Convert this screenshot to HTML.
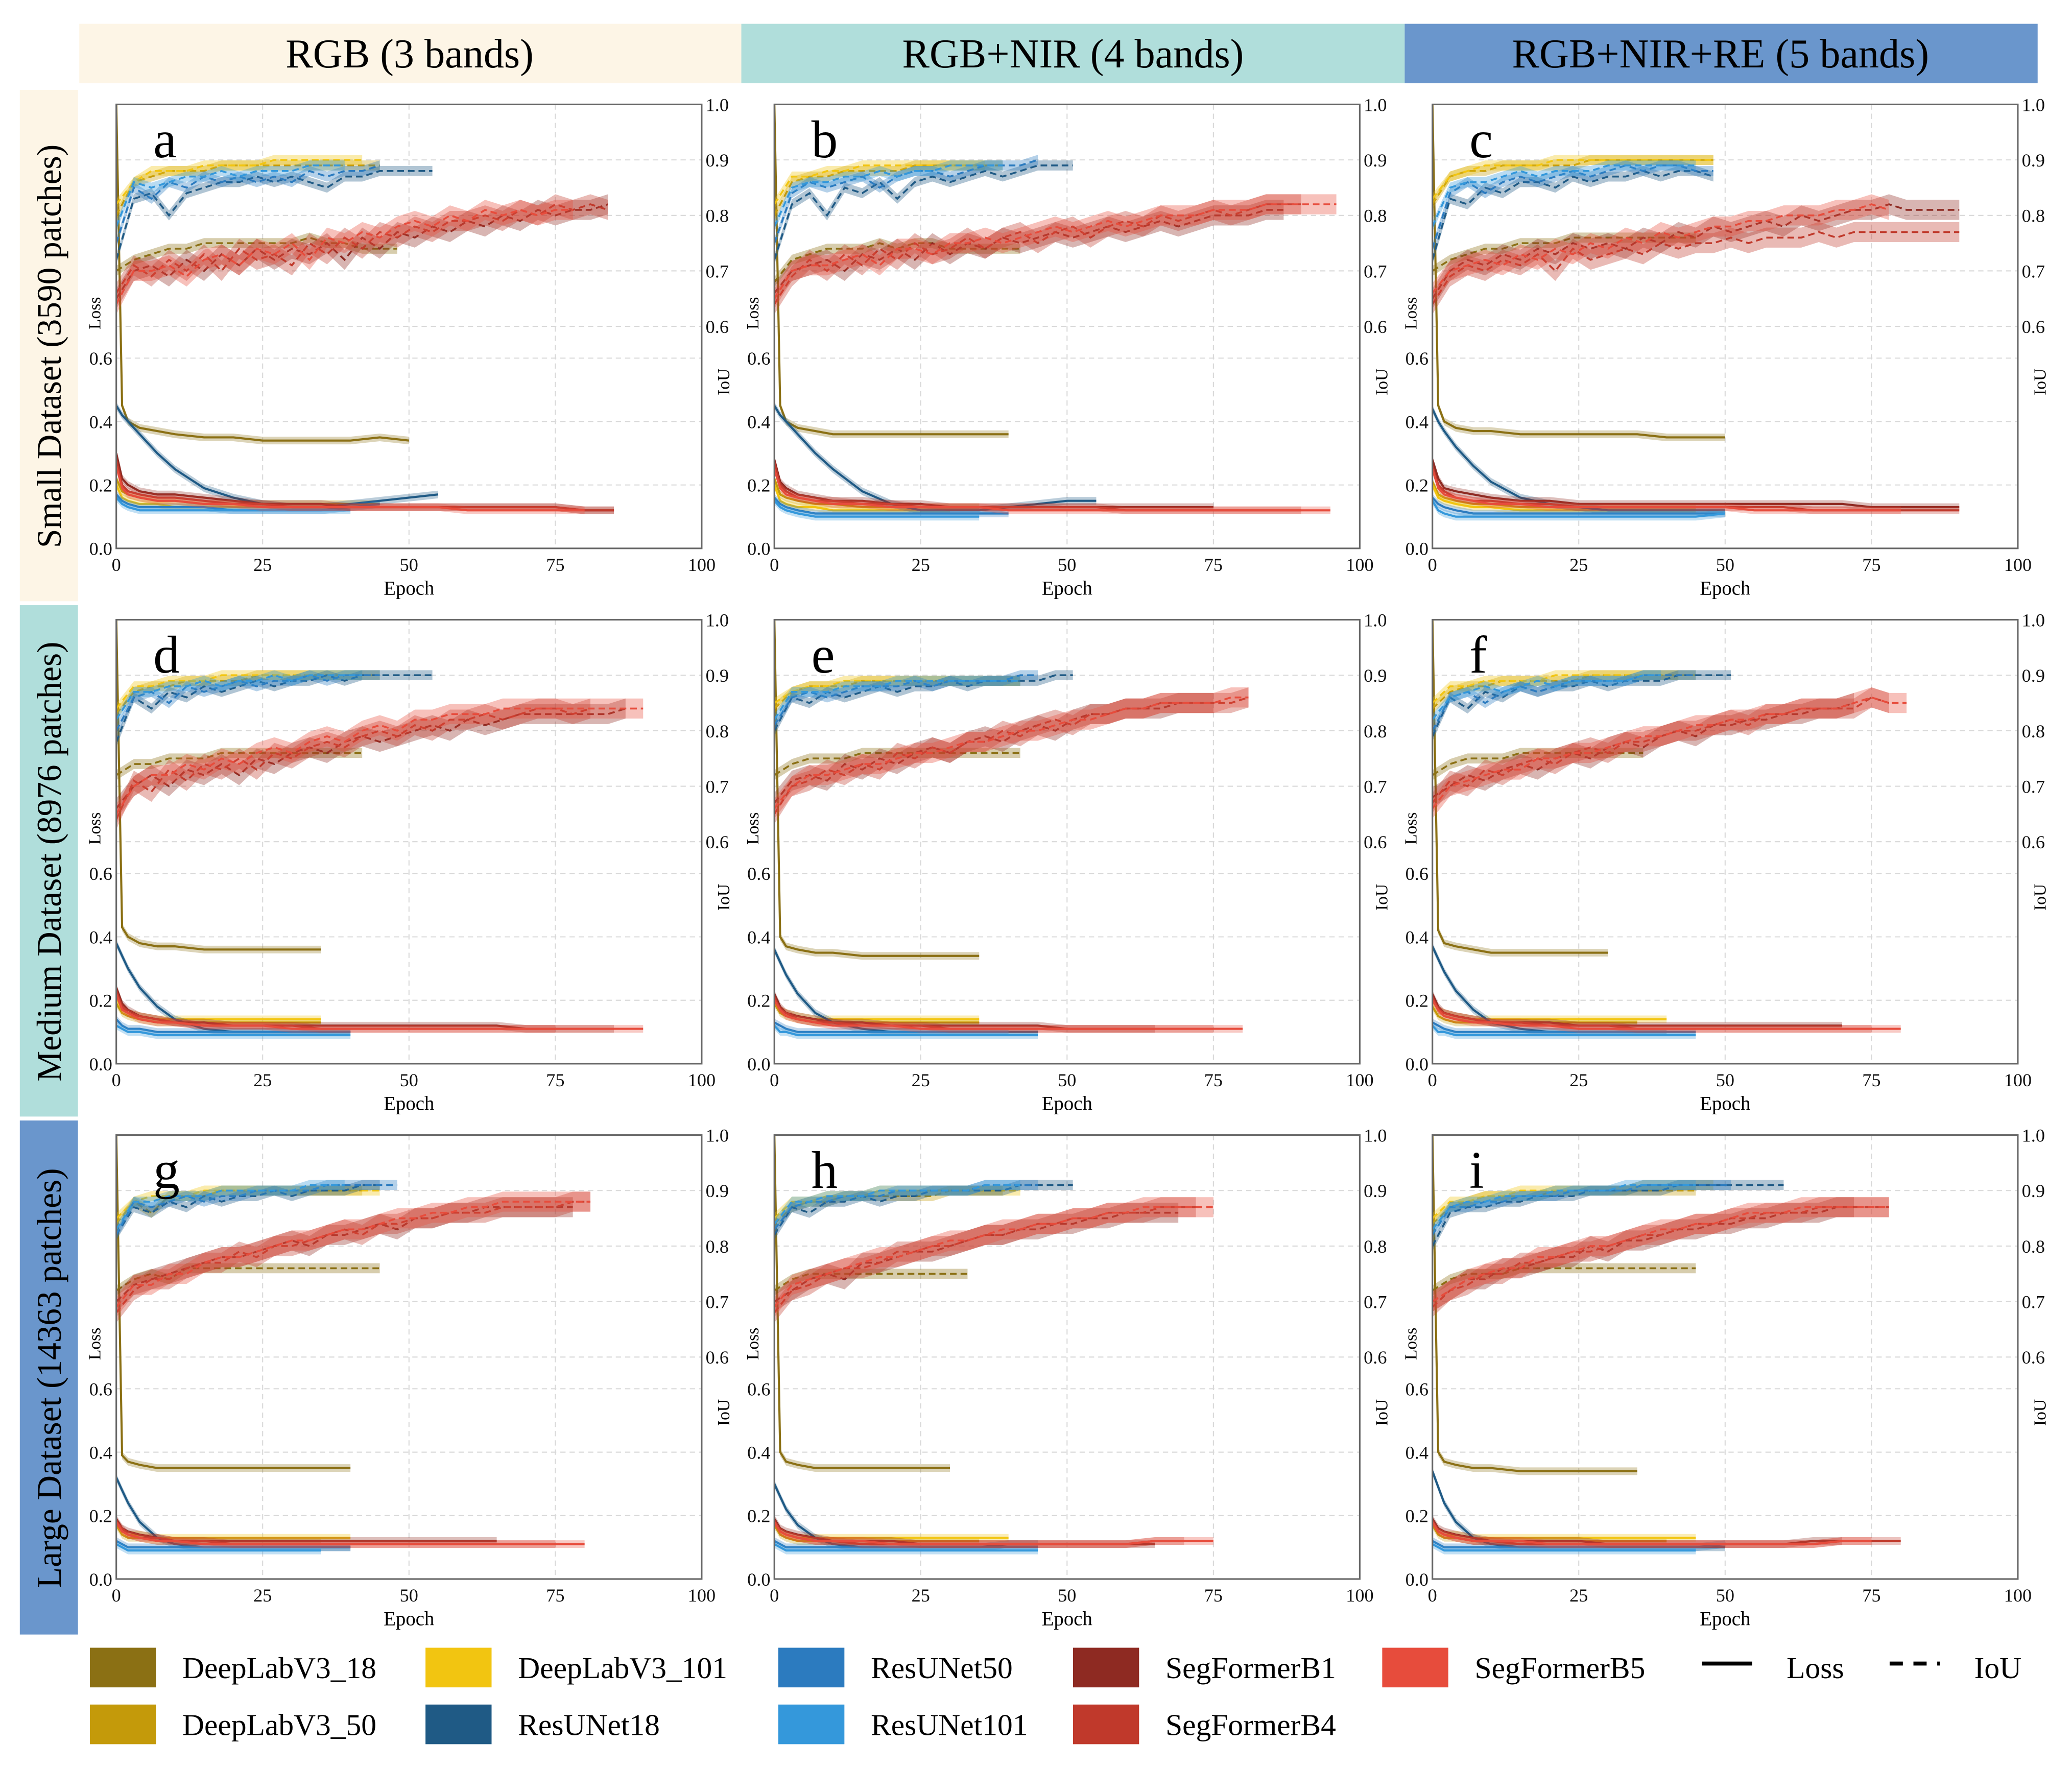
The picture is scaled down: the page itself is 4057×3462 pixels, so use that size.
<!DOCTYPE html>
<html><head><meta charset="utf-8"><style>
html,body{margin:0;padding:0;background:#fff;}
svg, svg text{font-family:"Liberation Serif",serif;}
svg{display:block;}
</style></head><body>
<svg id="fig" width="4057" height="3462" viewBox="0 0 1568 1338" xmlns="http://www.w3.org/2000/svg" font-family="Liberation Serif, serif">
<rect x="0" y="0" width="1568" height="1338" fill="#fff"/>
<g font-family="Liberation Serif, serif">
<rect x="60" y="18" width="501" height="45" fill="#fdf5e6"/>
<rect x="561" y="18" width="502" height="45" fill="#b0dedb"/>
<rect x="1063" y="18" width="479" height="45" fill="#6a96cc"/>
<text x="310" y="51" font-size="31" text-anchor="middle" font-family="Liberation Serif, serif">RGB (3 bands)</text>
<text x="812" y="51" font-size="31" text-anchor="middle" font-family="Liberation Serif, serif">RGB+NIR (4 bands)</text>
<text x="1302" y="51" font-size="31" text-anchor="middle" font-family="Liberation Serif, serif">RGB+NIR+RE (5 bands)</text>
</g>
<g>
<rect x="15" y="68" width="44" height="387" fill="#fdf5e6"/>
<rect x="15" y="458" width="44" height="387" fill="#b0dedb"/>
<rect x="15" y="848" width="44" height="389" fill="#6a96cc"/>
<text transform="translate(46,262) rotate(-90)" font-size="26" text-anchor="middle">Small Dataset (3590 patches)</text>
<text transform="translate(46,652) rotate(-90)" font-size="26" text-anchor="middle">Medium Dataset (8976 patches)</text>
<text transform="translate(46,1043) rotate(-90)" font-size="26" text-anchor="middle">Large Dataset (14363 patches)</text>
</g>
<g id="panels"></g>
<g font-size="23">
<g><rect x="68" y="1247" width="50" height="30" fill="#8b7014"/><text x="138" y="1270">DeepLabV3_18</text></g>
<g><rect x="68" y="1290" width="50" height="30" fill="#c49a0a"/><text x="138" y="1313">DeepLabV3_50</text></g>
<g><rect x="322" y="1247" width="50" height="30" fill="#f2c511"/><text x="392" y="1270">DeepLabV3_101</text></g>
<g><rect x="322" y="1290" width="50" height="30" fill="#1f5a85"/><text x="392" y="1313">ResUNet18</text></g>
<g><rect x="589" y="1247" width="50" height="30" fill="#2c7bbf"/><text x="659" y="1270">ResUNet50</text></g>
<g><rect x="589" y="1290" width="50" height="30" fill="#3498db"/><text x="659" y="1313">ResUNet101</text></g>
<g><rect x="812" y="1247" width="50" height="30" fill="#8e2a22"/><text x="882" y="1270">SegFormerB1</text></g>
<g><rect x="812" y="1290" width="50" height="30" fill="#c0392b"/><text x="882" y="1313">SegFormerB4</text></g>
<g><rect x="1046" y="1247" width="50" height="30" fill="#e74c3c"/><text x="1116" y="1270">SegFormerB5</text></g>
<g><line x1="1288" y1="1259" x2="1326" y2="1259" stroke="#000" stroke-width="3"/><text x="1352" y="1270">Loss</text></g>
<g><line x1="1430" y1="1259" x2="1468" y2="1259" stroke="#000" stroke-width="3" stroke-dasharray="10,8"/><text x="1494" y="1270">IoU</text></g>
</g>
</svg>
<script>
const models = ["DeepLabV3_18","DeepLabV3_50","DeepLabV3_101","ResUNet18","ResUNet50","ResUNet101","SegFormerB1","SegFormerB4","SegFormerB5"];
const colors = ["#8b7014","#c49a0a","#f2c511","#1f5a85","#2c7bbf","#3498db","#8e2a22","#c0392b","#e74c3c"];
const panelLetters = ["a","b","c","d","e","f","g","h","i"];
const xTicks = [0,25,50,75,100];
const xTickLabels = ["0","25","50","75","100"];
const lossTicks = [0,0.2,0.4,0.6];
const lossTickLabels = ["0.0","0.2","0.4","0.6"];
const iouTicks = [1.0,0.9,0.8,0.7,0.6];
const iouTickLabels = ["1.0","0.9","0.8","0.7","0.6"];
const iouStep = 3;
const lossEpochs = [0,1,2,4,7,10,15,20,25,30,35,40,45,50,55,60,65,70,75,80,85,90,95];

const iou_a = [
[0.70,0.72,0.73,0.74,0.74,0.75,0.75,0.75,0.75,0.75,0.75,0.76,0.75,0.75,0.74,0.74,0.74],
[0.80,0.86,0.87,0.88,0.88,0.88,0.89,0.89,0.89,0.89,0.89,0.89,0.89,0.89,0.89,0.89],
[0.82,0.86,0.88,0.88,0.88,0.89,0.89,0.89,0.89,0.90,0.90,0.90,0.90,0.90,0.90],
[0.72,0.83,0.84,0.80,0.84,0.85,0.86,0.86,0.87,0.86,0.87,0.86,0.85,0.87,0.87,0.88,0.88,0.88,0.88],
[0.75,0.85,0.83,0.86,0.85,0.87,0.86,0.87,0.86,0.87,0.86,0.88,0.87,0.88,0.88,0.89],
[0.78,0.86,0.85,0.86,0.87,0.87,0.88,0.87,0.88,0.88,0.88,0.89,0.89,0.89],
[0.65,0.70,0.71,0.69,0.72,0.70,0.73,0.71,0.74,0.72,0.74,0.73,0.75,0.72,0.76,0.74,0.77,0.76,0.78,0.77,0.79,0.78,0.80,0.79,0.81,0.80,0.81,0.81,0.82],
[0.66,0.71,0.69,0.72,0.70,0.73,0.70,0.74,0.72,0.73,0.71,0.75,0.73,0.76,0.74,0.77,0.76,0.78,0.77,0.79,0.79,0.80,0.79,0.81,0.80,0.82,0.81,0.82,0.81],
[0.64,0.70,0.70,0.71,0.69,0.72,0.73,0.71,0.74,0.73,0.75,0.72,0.76,0.75,0.77,0.76,0.78,0.79,0.78,0.80,0.79,0.81,0.80,0.81,0.80,0.81,0.81]];
const loss_a = [
[1.4,0.45,0.40,0.38,0.37,0.36,0.35,0.35,0.34,0.34,0.34,0.34,0.35,0.34],
[0.22,0.18,0.17,0.16,0.15,0.15,0.14,0.14,0.14,0.14,0.14,0.14,0.14],
[0.20,0.16,0.15,0.14,0.14,0.13,0.13,0.13,0.13,0.13,0.13,0.13],
[0.45,0.42,0.40,0.36,0.30,0.25,0.19,0.16,0.14,0.13,0.13,0.14,0.15,0.16,0.17],
[0.17,0.15,0.14,0.13,0.13,0.13,0.13,0.12,0.12,0.12,0.12,0.13,0.14],
[0.16,0.14,0.13,0.12,0.12,0.12,0.12,0.12,0.12,0.12,0.12,0.12],
[0.30,0.22,0.20,0.18,0.17,0.17,0.16,0.15,0.14,0.14,0.14,0.13,0.13,0.13,0.13,0.13,0.13,0.13,0.13,0.12,0.12],
[0.28,0.20,0.18,0.17,0.16,0.16,0.15,0.14,0.14,0.13,0.13,0.13,0.13,0.13,0.13,0.13,0.13,0.13,0.13,0.12,0.12],
[0.26,0.19,0.17,0.16,0.15,0.15,0.14,0.14,0.13,0.13,0.13,0.13,0.13,0.13,0.13,0.12,0.12,0.12,0.12,0.12]];

const iou_b = [
[0.68,0.72,0.73,0.74,0.74,0.74,0.75,0.74,0.75,0.75,0.74,0.74,0.74,0.74,0.74],
[0.80,0.86,0.87,0.87,0.88,0.88,0.88,0.88,0.89,0.89,0.89,0.89,0.89,0.89],
[0.82,0.87,0.87,0.88,0.88,0.89,0.89,0.89,0.89,0.89,0.89,0.89,0.89],
[0.72,0.82,0.84,0.80,0.85,0.84,0.86,0.83,0.86,0.87,0.86,0.87,0.88,0.87,0.88,0.89,0.89,0.89],
[0.75,0.84,0.86,0.85,0.86,0.87,0.85,0.87,0.88,0.88,0.87,0.88,0.89,0.89,0.89,0.90],
[0.78,0.85,0.86,0.86,0.87,0.87,0.88,0.87,0.88,0.88,0.89,0.89,0.89,0.89],
[0.66,0.70,0.71,0.72,0.70,0.73,0.72,0.74,0.72,0.75,0.73,0.75,0.74,0.76,0.75,0.76,0.77,0.76,0.77,0.78,0.77,0.78,0.79,0.78,0.79,0.80,0.80,0.80,0.81,0.81],
[0.64,0.69,0.72,0.70,0.73,0.71,0.74,0.72,0.75,0.73,0.74,0.76,0.74,0.76,0.77,0.75,0.77,0.78,0.76,0.78,0.79,0.78,0.80,0.79,0.80,0.81,0.80,0.81,0.82,0.82,0.82],
[0.65,0.70,0.71,0.71,0.72,0.73,0.71,0.74,0.74,0.73,0.75,0.75,0.76,0.75,0.76,0.77,0.78,0.77,0.78,0.79,0.78,0.79,0.80,0.80,0.80,0.81,0.81,0.81,0.82,0.82,0.82,0.82,0.82]];
const loss_b = [
[1.4,0.45,0.40,0.38,0.37,0.36,0.36,0.36,0.36,0.36,0.36,0.36],
[0.22,0.17,0.16,0.15,0.14,0.14,0.13,0.13,0.13,0.13,0.13],
[0.20,0.15,0.14,0.13,0.13,0.12,0.12,0.12,0.12,0.12],
[0.45,0.42,0.40,0.36,0.30,0.25,0.18,0.14,0.12,0.12,0.12,0.13,0.14,0.15,0.15],
[0.16,0.14,0.13,0.12,0.11,0.11,0.11,0.11,0.11,0.11,0.11,0.11],
[0.15,0.13,0.12,0.11,0.10,0.10,0.10,0.10,0.10,0.10,0.10],
[0.28,0.21,0.19,0.17,0.16,0.15,0.15,0.14,0.14,0.13,0.13,0.13,0.13,0.13,0.13,0.13,0.13,0.13,0.13],
[0.27,0.20,0.18,0.16,0.15,0.15,0.14,0.14,0.13,0.13,0.13,0.13,0.13,0.13,0.13,0.12,0.12,0.12,0.12,0.12,0.12,0.12],
[0.25,0.19,0.17,0.16,0.15,0.14,0.14,0.13,0.13,0.13,0.13,0.12,0.12,0.12,0.12,0.12,0.12,0.12,0.12,0.12,0.12,0.12,0.12]];

const iou_c = [
[0.70,0.72,0.73,0.74,0.74,0.75,0.75,0.75,0.76,0.76,0.76,0.76,0.76,0.76,0.76,0.76],
[0.82,0.87,0.88,0.88,0.89,0.89,0.89,0.89,0.89,0.90,0.90,0.90,0.90,0.90,0.90,0.90,0.90],
[0.83,0.87,0.88,0.89,0.89,0.89,0.89,0.90,0.90,0.90,0.90,0.90,0.90,0.90,0.90,0.90,0.90],
[0.72,0.83,0.82,0.85,0.84,0.86,0.86,0.85,0.87,0.86,0.87,0.87,0.88,0.87,0.88,0.88,0.87],
[0.74,0.84,0.86,0.84,0.86,0.87,0.86,0.87,0.88,0.87,0.88,0.89,0.88,0.89,0.89,0.88,0.88],
[0.78,0.85,0.86,0.86,0.87,0.88,0.87,0.88,0.88,0.88,0.89,0.89,0.89,0.89,0.89,0.89],
[0.65,0.70,0.72,0.71,0.73,0.72,0.74,0.73,0.75,0.74,0.75,0.74,0.76,0.75,0.77,0.76,0.78,0.77,0.78,0.79,0.78,0.80,0.79,0.80,0.81,0.81,0.82,0.81,0.81,0.81,0.81],
[0.64,0.69,0.71,0.70,0.72,0.71,0.73,0.70,0.74,0.72,0.73,0.74,0.73,0.75,0.74,0.75,0.75,0.76,0.75,0.76,0.76,0.76,0.77,0.76,0.77,0.77,0.77,0.77,0.77,0.77,0.77],
[0.66,0.70,0.71,0.72,0.71,0.73,0.72,0.74,0.73,0.75,0.74,0.76,0.75,0.77,0.76,0.77,0.78,0.78,0.79,0.79,0.80,0.80,0.80,0.81,0.81,0.82,0.81]];
const loss_c = [
[1.4,0.45,0.40,0.38,0.37,0.37,0.36,0.36,0.36,0.36,0.36,0.35,0.35,0.35],
[0.21,0.17,0.16,0.15,0.14,0.14,0.13,0.13,0.13,0.13,0.13,0.13,0.13],
[0.20,0.16,0.15,0.14,0.13,0.13,0.12,0.12,0.12,0.12,0.12,0.12,0.12],
[0.44,0.40,0.37,0.32,0.26,0.21,0.16,0.14,0.13,0.12,0.12,0.12,0.12,0.12],
[0.16,0.14,0.13,0.12,0.11,0.11,0.11,0.11,0.11,0.11,0.11,0.11,0.11,0.11],
[0.15,0.12,0.11,0.10,0.10,0.10,0.10,0.10,0.10,0.10,0.10,0.10,0.10,0.11],
[0.28,0.22,0.19,0.18,0.17,0.16,0.15,0.15,0.14,0.14,0.14,0.14,0.14,0.14,0.14,0.14,0.14,0.14,0.13,0.13,0.13,0.13],
[0.26,0.20,0.18,0.16,0.15,0.15,0.14,0.14,0.13,0.13,0.13,0.13,0.13,0.13,0.13,0.13,0.12,0.12,0.12,0.12,0.12,0.12],
[0.25,0.19,0.17,0.16,0.15,0.14,0.14,0.13,0.13,0.13,0.13,0.13,0.13,0.13,0.12,0.12,0.12,0.12,0.12,0.12]];

const iou_d = [
[0.72,0.74,0.74,0.75,0.75,0.75,0.76,0.76,0.76,0.76,0.76,0.76,0.76,0.76,0.76],
[0.83,0.87,0.88,0.88,0.89,0.89,0.89,0.89,0.90,0.90,0.90,0.90,0.90,0.90,0.90],
[0.84,0.88,0.88,0.89,0.89,0.89,0.90,0.90,0.90,0.90,0.90,0.90,0.90,0.90,0.90,0.90],
[0.78,0.86,0.84,0.87,0.86,0.88,0.87,0.88,0.89,0.88,0.89,0.89,0.90,0.89,0.90,0.90,0.90,0.90,0.90],
[0.80,0.86,0.87,0.85,0.88,0.87,0.88,0.89,0.88,0.89,0.89,0.90,0.89,0.90,0.90,0.90],
[0.82,0.87,0.87,0.88,0.88,0.89,0.88,0.89,0.89,0.90,0.89,0.90,0.90,0.90,0.90],
[0.66,0.70,0.72,0.70,0.73,0.72,0.74,0.72,0.75,0.74,0.76,0.77,0.76,0.78,0.79,0.78,0.79,0.80,0.81,0.80,0.82,0.81,0.82,0.83,0.83,0.83,0.83,0.83,0.83,0.84],
[0.64,0.71,0.69,0.73,0.71,0.74,0.73,0.75,0.73,0.76,0.75,0.77,0.78,0.77,0.79,0.80,0.79,0.81,0.80,0.82,0.82,0.83,0.82,0.83,0.84,0.84,0.83,0.84],
[0.65,0.70,0.72,0.72,0.74,0.73,0.75,0.74,0.76,0.77,0.76,0.78,0.79,0.78,0.80,0.81,0.80,0.82,0.82,0.83,0.83,0.83,0.84,0.84,0.84,0.84,0.84,0.84,0.84,0.84,0.84]];
const loss_d = [
[1.4,0.43,0.40,0.38,0.37,0.37,0.36,0.36,0.36,0.36,0.36],
[0.19,0.16,0.15,0.14,0.13,0.13,0.13,0.13,0.13,0.13,0.13],
[0.21,0.17,0.16,0.15,0.14,0.14,0.14,0.14,0.14,0.14,0.14],
[0.38,0.34,0.30,0.24,0.18,0.14,0.11,0.10,0.10,0.10,0.10,0.10],
[0.14,0.12,0.11,0.11,0.10,0.10,0.10,0.10,0.10,0.10,0.10,0.10],
[0.12,0.11,0.10,0.10,0.09,0.09,0.09,0.09,0.09,0.09,0.09,0.09],
[0.24,0.19,0.17,0.15,0.14,0.13,0.13,0.12,0.12,0.12,0.12,0.12,0.12,0.12,0.12,0.12,0.12,0.11,0.11,0.11,0.11],
[0.23,0.18,0.16,0.15,0.14,0.13,0.12,0.12,0.12,0.12,0.11,0.11,0.11,0.11,0.11,0.11,0.11,0.11,0.11],
[0.22,0.17,0.16,0.14,0.13,0.13,0.12,0.12,0.12,0.11,0.11,0.11,0.11,0.11,0.11,0.11,0.11,0.11,0.11,0.11,0.11,0.11]];

const iou_e = [
[0.72,0.74,0.75,0.75,0.75,0.76,0.76,0.76,0.76,0.76,0.76,0.76,0.76,0.76,0.76],
[0.84,0.87,0.88,0.88,0.88,0.89,0.89,0.89,0.89,0.89,0.89,0.89,0.89,0.89,0.89],
[0.85,0.87,0.88,0.88,0.89,0.89,0.89,0.89,0.89,0.89,0.89,0.89,0.89,0.89,0.89],
[0.80,0.86,0.85,0.87,0.86,0.87,0.88,0.87,0.88,0.88,0.89,0.88,0.89,0.89,0.89,0.89,0.90,0.90],
[0.81,0.86,0.87,0.86,0.87,0.88,0.88,0.88,0.89,0.88,0.89,0.89,0.89,0.89,0.90,0.90],
[0.82,0.87,0.87,0.87,0.88,0.88,0.88,0.89,0.89,0.89,0.89,0.89,0.89,0.89,0.89],
[0.67,0.71,0.72,0.71,0.74,0.73,0.75,0.74,0.76,0.77,0.76,0.78,0.79,0.78,0.80,0.81,0.80,0.82,0.83,0.83,0.84,0.84,0.84,0.85,0.85,0.85],
[0.65,0.70,0.71,0.73,0.72,0.74,0.73,0.76,0.75,0.77,0.76,0.78,0.78,0.80,0.79,0.81,0.82,0.81,0.83,0.83,0.84,0.84,0.85,0.85,0.85,0.85,0.85,0.86],
[0.66,0.70,0.72,0.72,0.73,0.74,0.74,0.75,0.76,0.76,0.77,0.78,0.78,0.79,0.80,0.80,0.81,0.82,0.82,0.83,0.84,0.84,0.85,0.85,0.85,0.85,0.86,0.86]];
const loss_e = [
[1.4,0.40,0.37,0.36,0.35,0.35,0.34,0.34,0.34,0.34,0.34],
[0.19,0.16,0.15,0.14,0.13,0.13,0.13,0.13,0.13,0.13,0.13],
[0.20,0.17,0.16,0.15,0.14,0.14,0.14,0.14,0.14,0.14,0.14],
[0.36,0.32,0.28,0.22,0.16,0.13,0.11,0.10,0.10,0.10,0.10,0.10,0.10],
[0.13,0.12,0.11,0.10,0.10,0.10,0.10,0.10,0.10,0.10,0.10,0.10],
[0.12,0.10,0.10,0.09,0.09,0.09,0.09,0.09,0.09,0.09,0.09,0.09,0.09],
[0.22,0.18,0.16,0.15,0.14,0.13,0.13,0.12,0.12,0.12,0.12,0.12,0.12,0.11,0.11,0.11,0.11],
[0.21,0.17,0.16,0.14,0.13,0.13,0.12,0.12,0.12,0.11,0.11,0.11,0.11,0.11,0.11,0.11,0.11,0.11,0.11],
[0.20,0.17,0.15,0.14,0.13,0.12,0.12,0.12,0.11,0.11,0.11,0.11,0.11,0.11,0.11,0.11,0.11,0.11,0.11,0.11]];

const iou_f = [
[0.72,0.74,0.75,0.75,0.75,0.76,0.76,0.76,0.76,0.76,0.76,0.76,0.76],
[0.84,0.87,0.88,0.88,0.89,0.89,0.89,0.89,0.89,0.90,0.90,0.90,0.90,0.90,0.90],
[0.85,0.88,0.88,0.89,0.89,0.89,0.89,0.90,0.90,0.90,0.90,0.90,0.90,0.90,0.90,0.90],
[0.79,0.86,0.84,0.87,0.86,0.88,0.87,0.88,0.88,0.89,0.88,0.89,0.89,0.89,0.90,0.90,0.90,0.90],
[0.80,0.86,0.87,0.85,0.87,0.88,0.87,0.88,0.89,0.89,0.89,0.89,0.90,0.90,0.90,0.90],
[0.82,0.86,0.87,0.88,0.87,0.88,0.89,0.88,0.89,0.89,0.89,0.89,0.90,0.90],
[0.68,0.70,0.72,0.71,0.73,0.74,0.73,0.75,0.76,0.75,0.77,0.78,0.77,0.79,0.80,0.79,0.81,0.81,0.82,0.82,0.83,0.83,0.84,0.84,0.85],
[0.67,0.71,0.70,0.73,0.72,0.74,0.75,0.74,0.76,0.77,0.76,0.78,0.78,0.79,0.80,0.80,0.81,0.82,0.81,0.83,0.83,0.84,0.84,0.84,0.84,0.86,0.85],
[0.66,0.70,0.71,0.72,0.73,0.73,0.75,0.75,0.76,0.76,0.77,0.78,0.79,0.79,0.80,0.81,0.81,0.82,0.82,0.83,0.83,0.84,0.84,0.84,0.85,0.86,0.85,0.85]];
const loss_f = [
[1.4,0.42,0.38,0.37,0.36,0.35,0.35,0.35,0.35,0.35],
[0.18,0.15,0.14,0.13,0.13,0.13,0.13,0.13,0.13,0.13,0.13],
[0.20,0.17,0.16,0.15,0.14,0.14,0.14,0.14,0.14,0.14,0.14,0.14],
[0.37,0.33,0.29,0.23,0.17,0.13,0.11,0.10,0.10,0.10,0.10,0.10],
[0.13,0.12,0.11,0.10,0.10,0.10,0.10,0.10,0.10,0.10,0.10,0.10,0.10],
[0.12,0.10,0.10,0.09,0.09,0.09,0.09,0.09,0.09,0.09,0.09,0.09,0.09],
[0.22,0.18,0.16,0.15,0.14,0.13,0.13,0.13,0.12,0.12,0.12,0.12,0.12,0.12,0.12,0.12,0.12,0.12],
[0.21,0.17,0.16,0.15,0.14,0.13,0.13,0.12,0.12,0.12,0.11,0.11,0.11,0.11,0.11,0.11,0.11,0.11,0.11],
[0.20,0.17,0.15,0.14,0.13,0.13,0.12,0.12,0.11,0.11,0.11,0.11,0.11,0.11,0.11,0.11,0.11,0.11,0.11,0.11]];

const iou_g = [
[0.72,0.74,0.75,0.74,0.76,0.76,0.76,0.76,0.76,0.76,0.76,0.76,0.76,0.76,0.76,0.76],
[0.84,0.88,0.86,0.89,0.89,0.89,0.90,0.90,0.90,0.90,0.90,0.90,0.90,0.90,0.90],
[0.85,0.88,0.89,0.89,0.89,0.90,0.90,0.90,0.90,0.90,0.90,0.90,0.90,0.90,0.90,0.90],
[0.82,0.87,0.86,0.88,0.87,0.89,0.88,0.89,0.89,0.90,0.89,0.90,0.90,0.90,0.91,0.91],
[0.82,0.88,0.87,0.88,0.89,0.88,0.89,0.89,0.90,0.90,0.90,0.90,0.91,0.91,0.91,0.91,0.91],
[0.83,0.88,0.88,0.89,0.89,0.89,0.90,0.90,0.90,0.90,0.90,0.91,0.91,0.91],
[0.70,0.73,0.74,0.75,0.76,0.77,0.78,0.78,0.79,0.80,0.81,0.80,0.82,0.82,0.83,0.84,0.83,0.85,0.85,0.86,0.86,0.87,0.87,0.87,0.87,0.87,0.87],
[0.68,0.72,0.74,0.74,0.76,0.77,0.77,0.79,0.78,0.80,0.80,0.81,0.82,0.83,0.82,0.84,0.84,0.85,0.85,0.86,0.86,0.86,0.87,0.87,0.87,0.87,0.88,0.88],
[0.69,0.73,0.73,0.75,0.75,0.77,0.78,0.78,0.79,0.80,0.81,0.81,0.82,0.83,0.83,0.84,0.85,0.85,0.86,0.86,0.87,0.87,0.88,0.88,0.88,0.88,0.88,0.88]];
const loss_g = [
[1.4,0.39,0.37,0.36,0.35,0.35,0.35,0.35,0.35,0.35,0.35,0.35],
[0.17,0.14,0.13,0.13,0.12,0.12,0.12,0.12,0.12,0.12,0.12],
[0.18,0.15,0.14,0.14,0.13,0.13,0.13,0.13,0.13,0.13,0.13,0.13],
[0.32,0.28,0.24,0.18,0.13,0.11,0.10,0.10,0.10,0.10,0.10,0.10],
[0.12,0.11,0.10,0.10,0.10,0.10,0.10,0.10,0.10,0.10,0.10,0.10],
[0.11,0.10,0.09,0.09,0.09,0.09,0.09,0.09,0.09,0.09,0.09],
[0.19,0.16,0.15,0.14,0.13,0.12,0.12,0.12,0.12,0.12,0.12,0.12,0.12,0.12,0.12,0.12,0.12],
[0.18,0.16,0.14,0.13,0.13,0.12,0.12,0.11,0.11,0.11,0.11,0.11,0.11,0.11,0.11,0.11,0.11,0.11,0.11],
[0.18,0.15,0.14,0.13,0.12,0.12,0.11,0.11,0.11,0.11,0.11,0.11,0.11,0.11,0.11,0.11,0.11,0.11,0.11,0.11]];

const iou_h = [
[0.72,0.74,0.75,0.75,0.75,0.75,0.75,0.75,0.75,0.75,0.75,0.75],
[0.84,0.87,0.88,0.88,0.89,0.89,0.89,0.89,0.89,0.89,0.90,0.90,0.90,0.90],
[0.85,0.88,0.88,0.89,0.89,0.89,0.90,0.90,0.90,0.90,0.90,0.90,0.90,0.90,0.90],
[0.82,0.87,0.86,0.88,0.88,0.89,0.88,0.89,0.89,0.90,0.90,0.90,0.90,0.90,0.91,0.91,0.91,0.91],
[0.83,0.87,0.88,0.88,0.89,0.89,0.89,0.90,0.90,0.90,0.90,0.90,0.91,0.91,0.91,0.91],
[0.84,0.88,0.88,0.89,0.89,0.89,0.90,0.90,0.90,0.90,0.90,0.90,0.91,0.91,0.91],
[0.70,0.72,0.74,0.75,0.74,0.77,0.77,0.78,0.79,0.79,0.80,0.81,0.82,0.82,0.83,0.83,0.84,0.84,0.85,0.85,0.86,0.86,0.86,0.86],
[0.68,0.72,0.73,0.75,0.76,0.76,0.77,0.79,0.79,0.80,0.80,0.81,0.82,0.82,0.83,0.84,0.84,0.85,0.85,0.86,0.86,0.86,0.87,0.87,0.87],
[0.69,0.73,0.74,0.75,0.76,0.77,0.78,0.78,0.79,0.80,0.81,0.81,0.82,0.83,0.83,0.84,0.84,0.85,0.85,0.86,0.86,0.87,0.87,0.87,0.87,0.87]];
const loss_h = [
[1.4,0.40,0.37,0.36,0.35,0.35,0.35,0.35,0.35,0.35],
[0.17,0.14,0.13,0.12,0.12,0.12,0.12,0.12,0.12,0.12,0.12],
[0.18,0.15,0.14,0.13,0.13,0.13,0.13,0.13,0.13,0.13,0.13,0.13],
[0.30,0.26,0.22,0.17,0.13,0.11,0.10,0.10,0.10,0.10,0.10,0.11,0.11],
[0.12,0.11,0.10,0.10,0.10,0.10,0.10,0.10,0.10,0.10,0.10,0.10,0.10],
[0.11,0.10,0.09,0.09,0.09,0.09,0.09,0.09,0.09,0.09,0.09,0.09,0.09],
[0.19,0.16,0.15,0.14,0.13,0.12,0.12,0.12,0.11,0.11,0.11,0.11,0.11,0.11,0.11,0.11,0.11],
[0.18,0.15,0.14,0.13,0.12,0.12,0.11,0.11,0.11,0.11,0.11,0.11,0.11,0.11,0.11,0.11,0.12,0.12],
[0.18,0.15,0.14,0.13,0.12,0.12,0.12,0.11,0.11,0.11,0.11,0.11,0.11,0.11,0.11,0.11,0.12,0.12,0.12]];

const iou_i = [
[0.72,0.74,0.75,0.75,0.75,0.76,0.76,0.76,0.76,0.76,0.76,0.76,0.76,0.76,0.76,0.76],
[0.84,0.87,0.88,0.89,0.89,0.89,0.89,0.90,0.90,0.90,0.90,0.90,0.90,0.90,0.90,0.90],
[0.85,0.88,0.88,0.89,0.89,0.90,0.90,0.90,0.90,0.90,0.90,0.90,0.91,0.91,0.91,0.91,0.91],
[0.80,0.86,0.87,0.87,0.88,0.88,0.89,0.89,0.89,0.90,0.90,0.90,0.90,0.90,0.91,0.91,0.91,0.91,0.91,0.91,0.91],
[0.82,0.87,0.87,0.88,0.88,0.89,0.89,0.89,0.90,0.90,0.90,0.90,0.91,0.91,0.91,0.91,0.91,0.91],
[0.83,0.87,0.88,0.88,0.89,0.89,0.89,0.90,0.90,0.90,0.90,0.91,0.91,0.91,0.91,0.91],
[0.70,0.72,0.74,0.74,0.76,0.76,0.77,0.78,0.78,0.80,0.79,0.81,0.81,0.82,0.83,0.83,0.84,0.84,0.85,0.85,0.86,0.86,0.86,0.87,0.87],
[0.69,0.72,0.73,0.75,0.75,0.77,0.77,0.78,0.79,0.79,0.80,0.81,0.82,0.82,0.83,0.84,0.84,0.85,0.85,0.86,0.86,0.86,0.87,0.87,0.87,0.87,0.87],
[0.70,0.72,0.74,0.75,0.76,0.76,0.78,0.78,0.79,0.80,0.80,0.81,0.82,0.83,0.83,0.84,0.84,0.85,0.86,0.86,0.86,0.87,0.87,0.87,0.87,0.87,0.87]];
const loss_i = [
[1.4,0.40,0.37,0.36,0.35,0.35,0.34,0.34,0.34,0.34,0.34],
[0.17,0.14,0.13,0.13,0.12,0.12,0.12,0.12,0.12,0.12,0.12,0.12],
[0.18,0.15,0.14,0.14,0.13,0.13,0.13,0.13,0.13,0.13,0.13,0.13,0.13],
[0.34,0.29,0.24,0.18,0.13,0.11,0.10,0.10,0.10,0.10,0.10,0.10,0.10,0.10],
[0.12,0.11,0.10,0.10,0.10,0.10,0.10,0.10,0.10,0.10,0.10,0.10,0.10,0.11],
[0.11,0.10,0.09,0.09,0.09,0.09,0.09,0.09,0.09,0.09,0.09,0.09,0.09],
[0.19,0.16,0.15,0.14,0.13,0.12,0.12,0.12,0.12,0.11,0.11,0.11,0.11,0.11,0.11,0.11,0.12,0.12],
[0.18,0.15,0.14,0.13,0.12,0.12,0.11,0.11,0.11,0.11,0.11,0.11,0.11,0.11,0.11,0.11,0.11,0.12,0.12,0.12],
[0.18,0.15,0.14,0.13,0.12,0.12,0.12,0.11,0.11,0.11,0.11,0.11,0.11,0.11,0.11,0.11,0.11,0.12,0.12]];

const iouData = [iou_a,iou_b,iou_c,iou_d,iou_e,iou_f,iou_g,iou_h,iou_i];
const lossData = [loss_a,loss_b,loss_c,loss_d,loss_e,loss_f,loss_g,loss_h,loss_i];

const NS = "http://www.w3.org/2000/svg";
const root = document.getElementById("panels");
const colX = [88,586,1084], rowY = [79,469,859], PW = 443, PH = 336;
const LOSS_MAX = 1.4, IOU_MIN = 0.2, IOU_MAX = 1.0;
function mk(tag, attrs, parent){const e=document.createElementNS(NS,tag);for(const k in attrs)e.setAttribute(k,attrs[k]);parent.appendChild(e);return e;}

for (let p = 0; p < 9; p++) {
  const x0 = colX[p%3], y0 = rowY[Math.floor(p/3)];
  const xs = e => x0 + e/100*PW;
  const yl = v => y0 + PH - Math.min(v,LOSS_MAX)/LOSS_MAX*PH;
  const yi = v => y0 + PH - (v-IOU_MIN)/(IOU_MAX-IOU_MIN)*PH;
  const g = mk("g", {}, root);
  
  
  const cp = mk("clipPath", {id:"clip"+p}, g);
  mk("rect", {x:x0, y:y0, width:PW, height:PH}, cp);
  const grid = mk("g", {stroke:"#d8d8d8", "stroke-width":0.8, "stroke-dasharray":"4,3", fill:"none"}, g);
  
  
  [25,50,75].forEach(t => mk("line", {x1:xs(t), x2:xs(t), y1:y0, y2:y0+PH}, grid));
  [0.2,0.4,0.6].forEach(t => mk("line", {x1:x0, x2:x0+PW, y1:yl(t), y2:yl(t)}, grid));
  [0.9,0.8,0.7,0.6].forEach(t => mk("line", {x1:x0, x2:x0+PW, y1:yi(t), y2:yi(t)}, grid));
  const sg = mk("g", {"clip-path":"url(#clip"+p+")"}, g);
  
  
  for (let m = 0; m < 9; m++) {
    const isSeg = m >= 6;
    const L = lossData[p][m];
    const lp = L.map((v,i)=>[xs(lossEpochs[i]), yl(v)]);
    const bw = 0.012;
    const up = L.map((v,i)=>xs(lossEpochs[i]).toFixed(1)+","+yl(v+bw).toFixed(1));
    const dn = L.map((v,i)=>xs(lossEpochs[i]).toFixed(1)+","+yl(Math.max(0,v-bw)).toFixed(1)).reverse();
    const lb = mk("polygon", {points:up.concat(dn).join(" "), fill:colors[m], "fill-opacity":0.3, stroke:"none"}, sg);
    
    
    const ll = mk("polyline", {points:lp.map(q=>q[0].toFixed(1)+","+q[1].toFixed(1)).join(" "), fill:"none", stroke:colors[m], "stroke-width":1.6}, sg);
    
    
    const I = iouData[p][m];
    const ib = isSeg ? 0.018 : 0.009;
    const iu = I.map((v,i)=>xs(i*iouStep).toFixed(1)+","+yi(v+ib).toFixed(1));
    const idn = I.map((v,i)=>xs(i*iouStep).toFixed(1)+","+yi(v-ib).toFixed(1)).reverse();
    const band = mk("polygon", {points:iu.concat(idn).join(" "), fill:colors[m], "fill-opacity":0.35, stroke:"none"}, sg);
    
    
    const il = mk("polyline", {points:I.map((v,i)=>xs(i*iouStep).toFixed(1)+","+yi(v).toFixed(1)).join(" "), fill:"none", stroke:colors[m], "stroke-width":1.4, "stroke-dasharray":"5,3"}, sg);
    
    
  }
  const fr = mk("rect", {x:x0, y:y0, width:PW, height:PH, fill:"none", stroke:"#666", "stroke-width":1.2}, g);
  
  
  const tg = mk("g", {"font-size":14, fill:"#111"}, g);
  
  
  xTicks.forEach((t,i)=>{const e=mk("text",{x:xs(t), y:y0+PH+17, "text-anchor":"middle"},tg); e.textContent=xTickLabels[i];
    
    });
  lossTicks.forEach((t,i)=>{const e=mk("text",{x:x0-3, y:yl(t)+5, "text-anchor":"end"},tg); e.textContent=lossTickLabels[i];
    
    });
  iouTicks.forEach((t,i)=>{const e=mk("text",{x:x0+PW+3, y:yi(t)+5, "text-anchor":"start"},tg); e.textContent=iouTickLabels[i];
    
    });
  const ex = mk("text",{x:x0+PW/2, y:y0+PH+35, "text-anchor":"middle", "font-size":15},g); ex.textContent="Epoch";
  
  
  const ly = mk("text",{transform:"translate("+(x0-12)+","+(y0+158)+") rotate(-90)", "text-anchor":"middle", "font-size":13},g); ly.textContent="Loss";
  
  
  const ry = mk("text",{transform:"translate("+(x0+PW+21)+","+(y0+210)+") rotate(-90)", "text-anchor":"middle", "font-size":13},g); ry.textContent="IoU";
  
  
  const lt = mk("text",{x:x0+28, y:y0+40, "font-size":40},g); lt.textContent=panelLetters[p];
  
  
}
</script>
</body></html>
